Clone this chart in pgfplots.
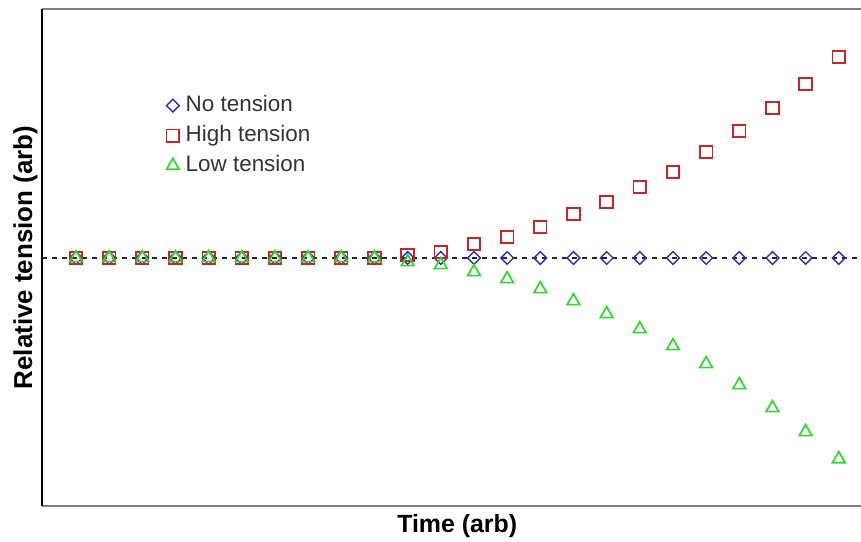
\documentclass[border=0pt]{standalone}
\usepackage{fontspec}
\setmainfont{Liberation Sans}
\usepackage{pgfplots}
\pgfplotsset{compat=1.18}

\definecolor{noT}{RGB}{45,45,190}
\definecolor{highT}{RGB}{205,35,35}
\definecolor{lowT}{RGB}{40,220,40}

% x: time step, y: relative tension (arb units)
\pgfplotstableread{
x   no   high   low
1   0    0      0
2   0    0      0
3   0    0      0
4   0    0      0
5   0    0      0
6   0    0      0
7   0    0      0
8   0    0      0
9   0    0      0
10  0    0      0
11  0    3      -4
12  0    6      -7
13  0    14     -14
14  0    21     -21
15  0    31     -31
16  0    44     -43
17  0    56     -56
18  0    71     -71
19  0    86     -88
20  0    106    -106
21  0    127    -127
22  0    150    -150
23  0    174    -174
24  0    201    -201
}\tension

\begin{document}
\begin{tikzpicture}
\begin{axis}[
    scale only axis,
    width=819bp, height=497bp,
    xmin=-0.025, xmax=24.67,
    ymin=-248, ymax=249,
    axis x line=box, axis y line=left,
    x axis line style={-, gray, line width=1.2bp},
    y axis line style={-, black, line width=1.3bp},
    xtick=\empty, ytick=\empty,
    xlabel={\fontsize{25}{29}\selectfont\bfseries Time (arb)},
    ylabel={\fontsize{26}{30}\selectfont\bfseries Relative tension (arb)},
    xlabel style={at={(rel axis cs:0.507,-0.0543)}, anchor=base},
    ylabel style={at={(rel axis cs:-0.0122,0.5)}, anchor=base, rotate=0},
    legend image code/.code={\path (0bp,0bp) (18bp,0bp);
        \draw[mark repeat=2, mark phase=2, #1] plot coordinates {(0bp,0bp) (7bp,0bp) (14bp,0bp)};},
    legend style={draw=none, fill=none, at={(rel axis cs:0.150,0.829)}, anchor=north west,
        inner sep=0pt, row sep=7bp, font=\fontsize{22.5}{26}\selectfont, text=black!80,
        nodes={inner sep=1bp, text height=16bp, text depth=5bp}},
    legend cell align=left,
]
\addplot [forget plot, black!85, line width=1.3bp, dash pattern=on 5bp off 5bp] coordinates {(-0.025,0) (24.67,0)};
\addplot [only marks, noT, mark=square, mark size=4.5bp, line width=1.4bp,
    every mark/.append style={rotate=45}] table [x=x, y=no] {\tension};
\addlegendentry{No tension}
\addplot [only marks, highT, mark=square, mark size=6.3bp, line width=1.7bp] table [x=x, y=high] {\tension};
\addlegendentry{High tension}
\addplot [only marks, lowT, mark=triangle, mark size=7.3bp, line width=1.7bp] table [x=x, y=low] {\tension};
\addlegendentry{Low tension}
\coordinate (ll) at (rel axis cs:0,0);
\end{axis}
\pgfresetboundingbox
\useasboundingbox ([shift={(-42bp,-36bp)}]ll) rectangle ([shift={(819bp,506bp)}]ll);
\end{tikzpicture}
\end{document}
